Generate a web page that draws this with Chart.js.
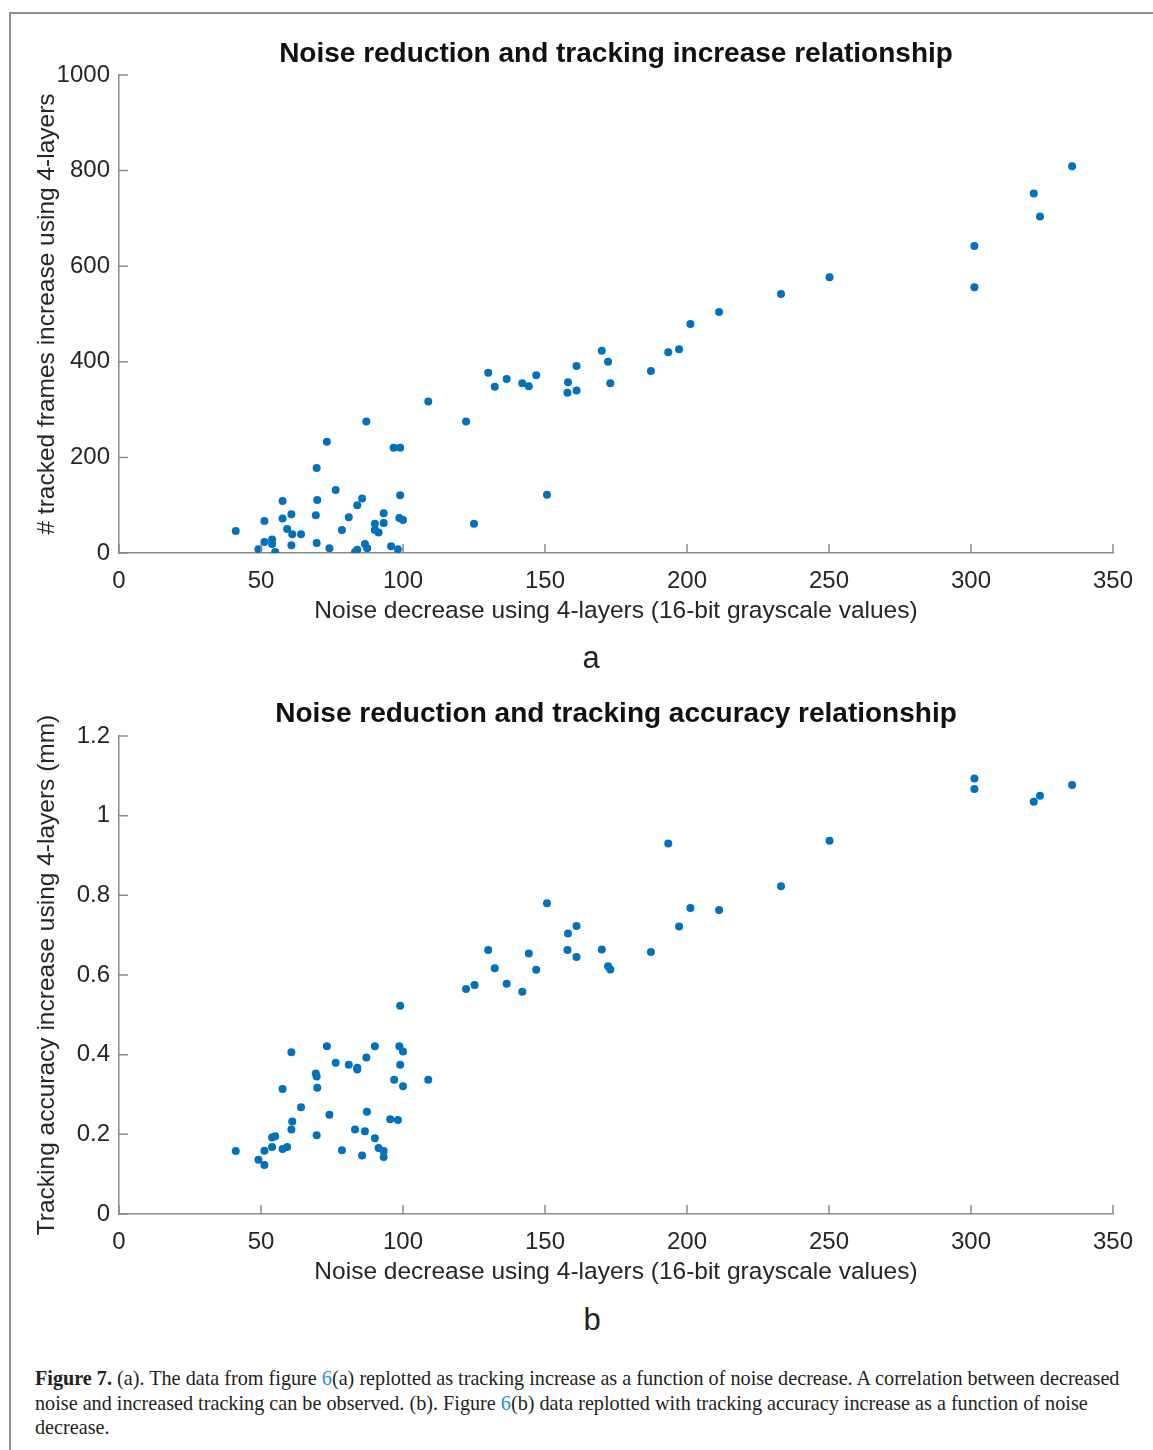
<!DOCTYPE html>
<html>
<head>
<meta charset="utf-8">
<script src="https://cdn.jsdelivr.net/npm/chart.js@4"></script>
<style>
    body { margin: 0; background: #fff; width: 1153px; height: 1450px; position: relative; overflow: hidden; }
    #frame { position: absolute; left: 9px; top: 12px; right: -5px; bottom: -5px; border-top: 2px solid #8f8f8f; border-left: 2px solid #8f8f8f; }
    canvas { position: absolute; left: 0; }
    #graph_a { top: 0; }
    #graph_b { top: 661px; }
    .label { position: absolute; font-family: 'Liberation Sans', Arial, sans-serif; color: #222; transform: translate(-50%, -50%); white-space: nowrap; }
    .panel { font-size: 31px; }
    .title { font-size: 28px; font-weight: bold; color: #111; }
    #caption { position: absolute; left: 35px; top: 1366px; font-family: 'Liberation Serif', 'DejaVu Serif', serif; font-size: 20.2px; line-height: 24.5px; color: #231f20; white-space: nowrap; }
    #caption .ref { color: #2b8fd2; }
</style>
</head>
<body>
<div id="frame"></div>
<canvas id="graph_a" width="1153" height="640"></canvas>
<canvas id="graph_b" width="1153" height="640"></canvas>
<div class="label title" style="left:616px; top:53px;">Noise reduction and tracking increase relationship</div>
<div class="label title" style="left:616px; top:713px;">Noise reduction and tracking accuracy relationship</div>
<div class="label panel" style="left:591px; top:658px;">a</div>
<div class="label panel" style="left:592px; top:1320px;">b</div>
<div id="caption"><b>Figure 7.</b> (a). The data from figure <span class="ref">6</span>(a) replotted as tracking increase as a function of noise decrease. A correlation between decreased<br>noise and increased tracking can be observed. (b). Figure <span class="ref">6</span>(b) data replotted with tracking accuracy increase as a function of noise<br>decrease.</div>
<script>
// (a) noise decrease vs tracked frames increase
const noiseA = [41.1, 108.9, 87.1, 73.2, 96.7, 99.0, 69.6, 76.3, 57.6, 69.8, 85.6, 83.9, 99.0, 60.7, 69.3, 80.9, 93.2, 51.2, 57.6, 59.2,
    61.0, 64.1, 78.5, 90.1, 93.2, 90.1, 91.4, 98.7, 100, 51.2, 53.9, 53.9, 49.1, 55.0, 60.7, 69.6, 74.1, 86.6, 87.4, 83.1,
    83.9, 95.8, 98.2, 122.2, 125, 150.7, 130, 132.3, 136.5, 142, 144.3, 146.9, 158.1, 157.9, 161.1, 161.1, 170, 172.2, 173, 187.3,
    193.4, 197.2, 201.2, 211.3, 233.1, 250.2, 301.2, 301.2, 322.1, 324.3, 335.6];
const trackedFrames = [46, 317, 275, 233, 220, 220, 178, 132, 109, 111, 114, 100, 121, 81, 79, 75, 83, 67, 72, 50,
    39, 39, 48, 61, 63, 48, 43, 73, 69, 23, 28, 19, 8, 2, 16, 21, 10, 19, 10, 2,
    7, 14, 8, 275, 61, 122, 377, 348, 364, 355, 349, 372, 357, 335, 340, 391, 423, 400, 355, 381,
    420, 426, 479, 504, 542, 577, 642, 556, 752, 704, 809];

// (b) noise decrease vs tracking accuracy increase (mm)
const noiseB = [41.1, 49.1, 51.2, 51.2, 53.9, 53.9, 55.0, 57.6, 57.6, 59.2, 60.7, 60.7, 61.0, 64.1, 69.3, 69.6, 69.6, 69.8, 73.2, 74.1,
    76.3, 78.5, 80.9, 83.1, 83.9, 83.9, 85.6, 86.6, 87.1, 87.3, 90.1, 90.1, 91.4, 93.2, 93.2, 95.5, 96.9, 98.2, 98.7, 99.0,
    99.0, 100, 100, 108.9, 122.2, 125.2, 130, 132.3, 136.5, 142, 144.3, 146.9, 150.7, 157.9, 158.1, 161.1, 161.1, 170, 172.2, 173,
    187.3, 193.4, 197.2, 201.2, 211.3, 233.1, 250.2, 301.2, 301.2, 322.1, 324.3, 335.6];
const accuracy = [0.158, 0.136, 0.159, 0.123, 0.192, 0.168, 0.195, 0.314, 0.163, 0.168, 0.406, 0.212, 0.232, 0.268, 0.353, 0.345, 0.198, 0.317, 0.421, 0.249,
    0.380, 0.160, 0.375, 0.212, 0.367, 0.363, 0.147, 0.208, 0.393, 0.257, 0.421, 0.190, 0.166, 0.158, 0.143, 0.238, 0.337, 0.236, 0.421, 0.523,
    0.375, 0.408, 0.321, 0.337, 0.565, 0.575, 0.663, 0.617, 0.578, 0.558, 0.654, 0.613, 0.780, 0.663, 0.704, 0.723, 0.645, 0.664, 0.622, 0.614,
    0.658, 0.930, 0.722, 0.768, 0.763, 0.823, 0.937, 1.093, 1.067, 1.035, 1.050, 1.077];

// Tick labels
const xTicks = [0, 50, 100, 150, 200, 250, 300, 350];
const yTicksA = [0, 200, 400, 600, 800, 1000];
const yTicksB = [0, 0.2, 0.4, 0.6, 0.8, 1, 1.2];

const xTitle = 'Noise decrease using 4-layers (16-bit grayscale values)';
const axisColor = '#8a8a8a';
const textColor = '#262626';
const dotColor = '#0072bd';
const fontFamily = "'Liberation Sans', Arial";

// MATLAB style inward tick marks
const inwardTicks = {
    id: 'inwardTicks',
    afterDraw(chart) {
        const ctx = chart.ctx;
        const x = chart.scales.x;
        const y = chart.scales.y;
        ctx.save();
        ctx.strokeStyle = axisColor;
        ctx.lineWidth = 1.5;
        ctx.beginPath();
        x.ticks.forEach((t, i) => {
            const px = x.getPixelForTick(i);
            ctx.moveTo(px, y.bottom);
            ctx.lineTo(px, y.bottom - 9);
        });
        y.ticks.forEach((t, i) => {
            const py = y.getPixelForTick(i);
            ctx.moveTo(x.left, py);
            ctx.lineTo(x.left + 9, py);
        });
        ctx.stroke();
        ctx.restore();
    }
};

function makeChart(id, xs, ys, yTitle, yTicks, yMax) {
    const points = xs.map((v, i) => ({ x: v, y: ys[i] }));
    return new Chart(document.getElementById(id), {
        type: 'scatter',
        data: {
            datasets: [{
                data: points,
                backgroundColor: dotColor,
                borderColor: dotColor,
                borderWidth: 0,
                pointRadius: 4,
                pointHoverRadius: 4
            }]
        },
        options: {
            responsive: false,
            animation: false,
            events: [],
            layout: { padding: { left: 0, right: 40, top: 75, bottom: 0 } },
            plugins: {
                legend: { display: false },
                tooltip: { enabled: false }
            },
            scales: {
                x: {
                    type: 'linear',
                    min: 0,
                    max: 350,
                    afterBuildTicks: scale => { scale.ticks = xTicks.map(v => ({ value: v })); },
                    afterFit: scale => { scale.height = 87; },
                    grid: { display: false, drawTicks: false, tickLength: 0 },
                    border: { display: true, color: axisColor, width: 1.5 },
                    ticks: {
                        color: textColor,
                        padding: 14,
                        maxRotation: 0,
                        font: { family: fontFamily, size: 24 },
                        callback: v => String(v)
                    },
                    title: {
                        display: true,
                        text: xTitle,
                        color: textColor,
                        font: { family: fontFamily, size: 24.5, lineHeight: 1.2 },
                        padding: { top: 0, bottom: 14 }
                    }
                },
                y: {
                    type: 'linear',
                    min: 0,
                    max: yMax,
                    afterBuildTicks: scale => { scale.ticks = yTicks.map(v => ({ value: v })); },
                    afterFit: scale => { scale.width = 119; },
                    grid: { display: false, drawTicks: false, tickLength: 0 },
                    border: { display: true, color: axisColor, width: 1.5 },
                    ticks: {
                        color: textColor,
                        padding: 9,
                        font: { family: fontFamily, size: 24 },
                        callback: v => String(v)
                    },
                    title: {
                        display: true,
                        text: yTitle,
                        color: textColor,
                        font: { family: fontFamily, size: 24.5, lineHeight: 1.2 },
                        padding: { top: 33, bottom: 0 }
                    }
                }
            }
        },
        plugins: [inwardTicks]
    });
}

makeChart('graph_a', noiseA, trackedFrames, '# tracked frames increase using 4-layers', yTicksA, 1000);
makeChart('graph_b', noiseB, accuracy, 'Tracking accuracy increase using 4-layers (mm)', yTicksB, 1.2);
</script>
</body>
</html>
